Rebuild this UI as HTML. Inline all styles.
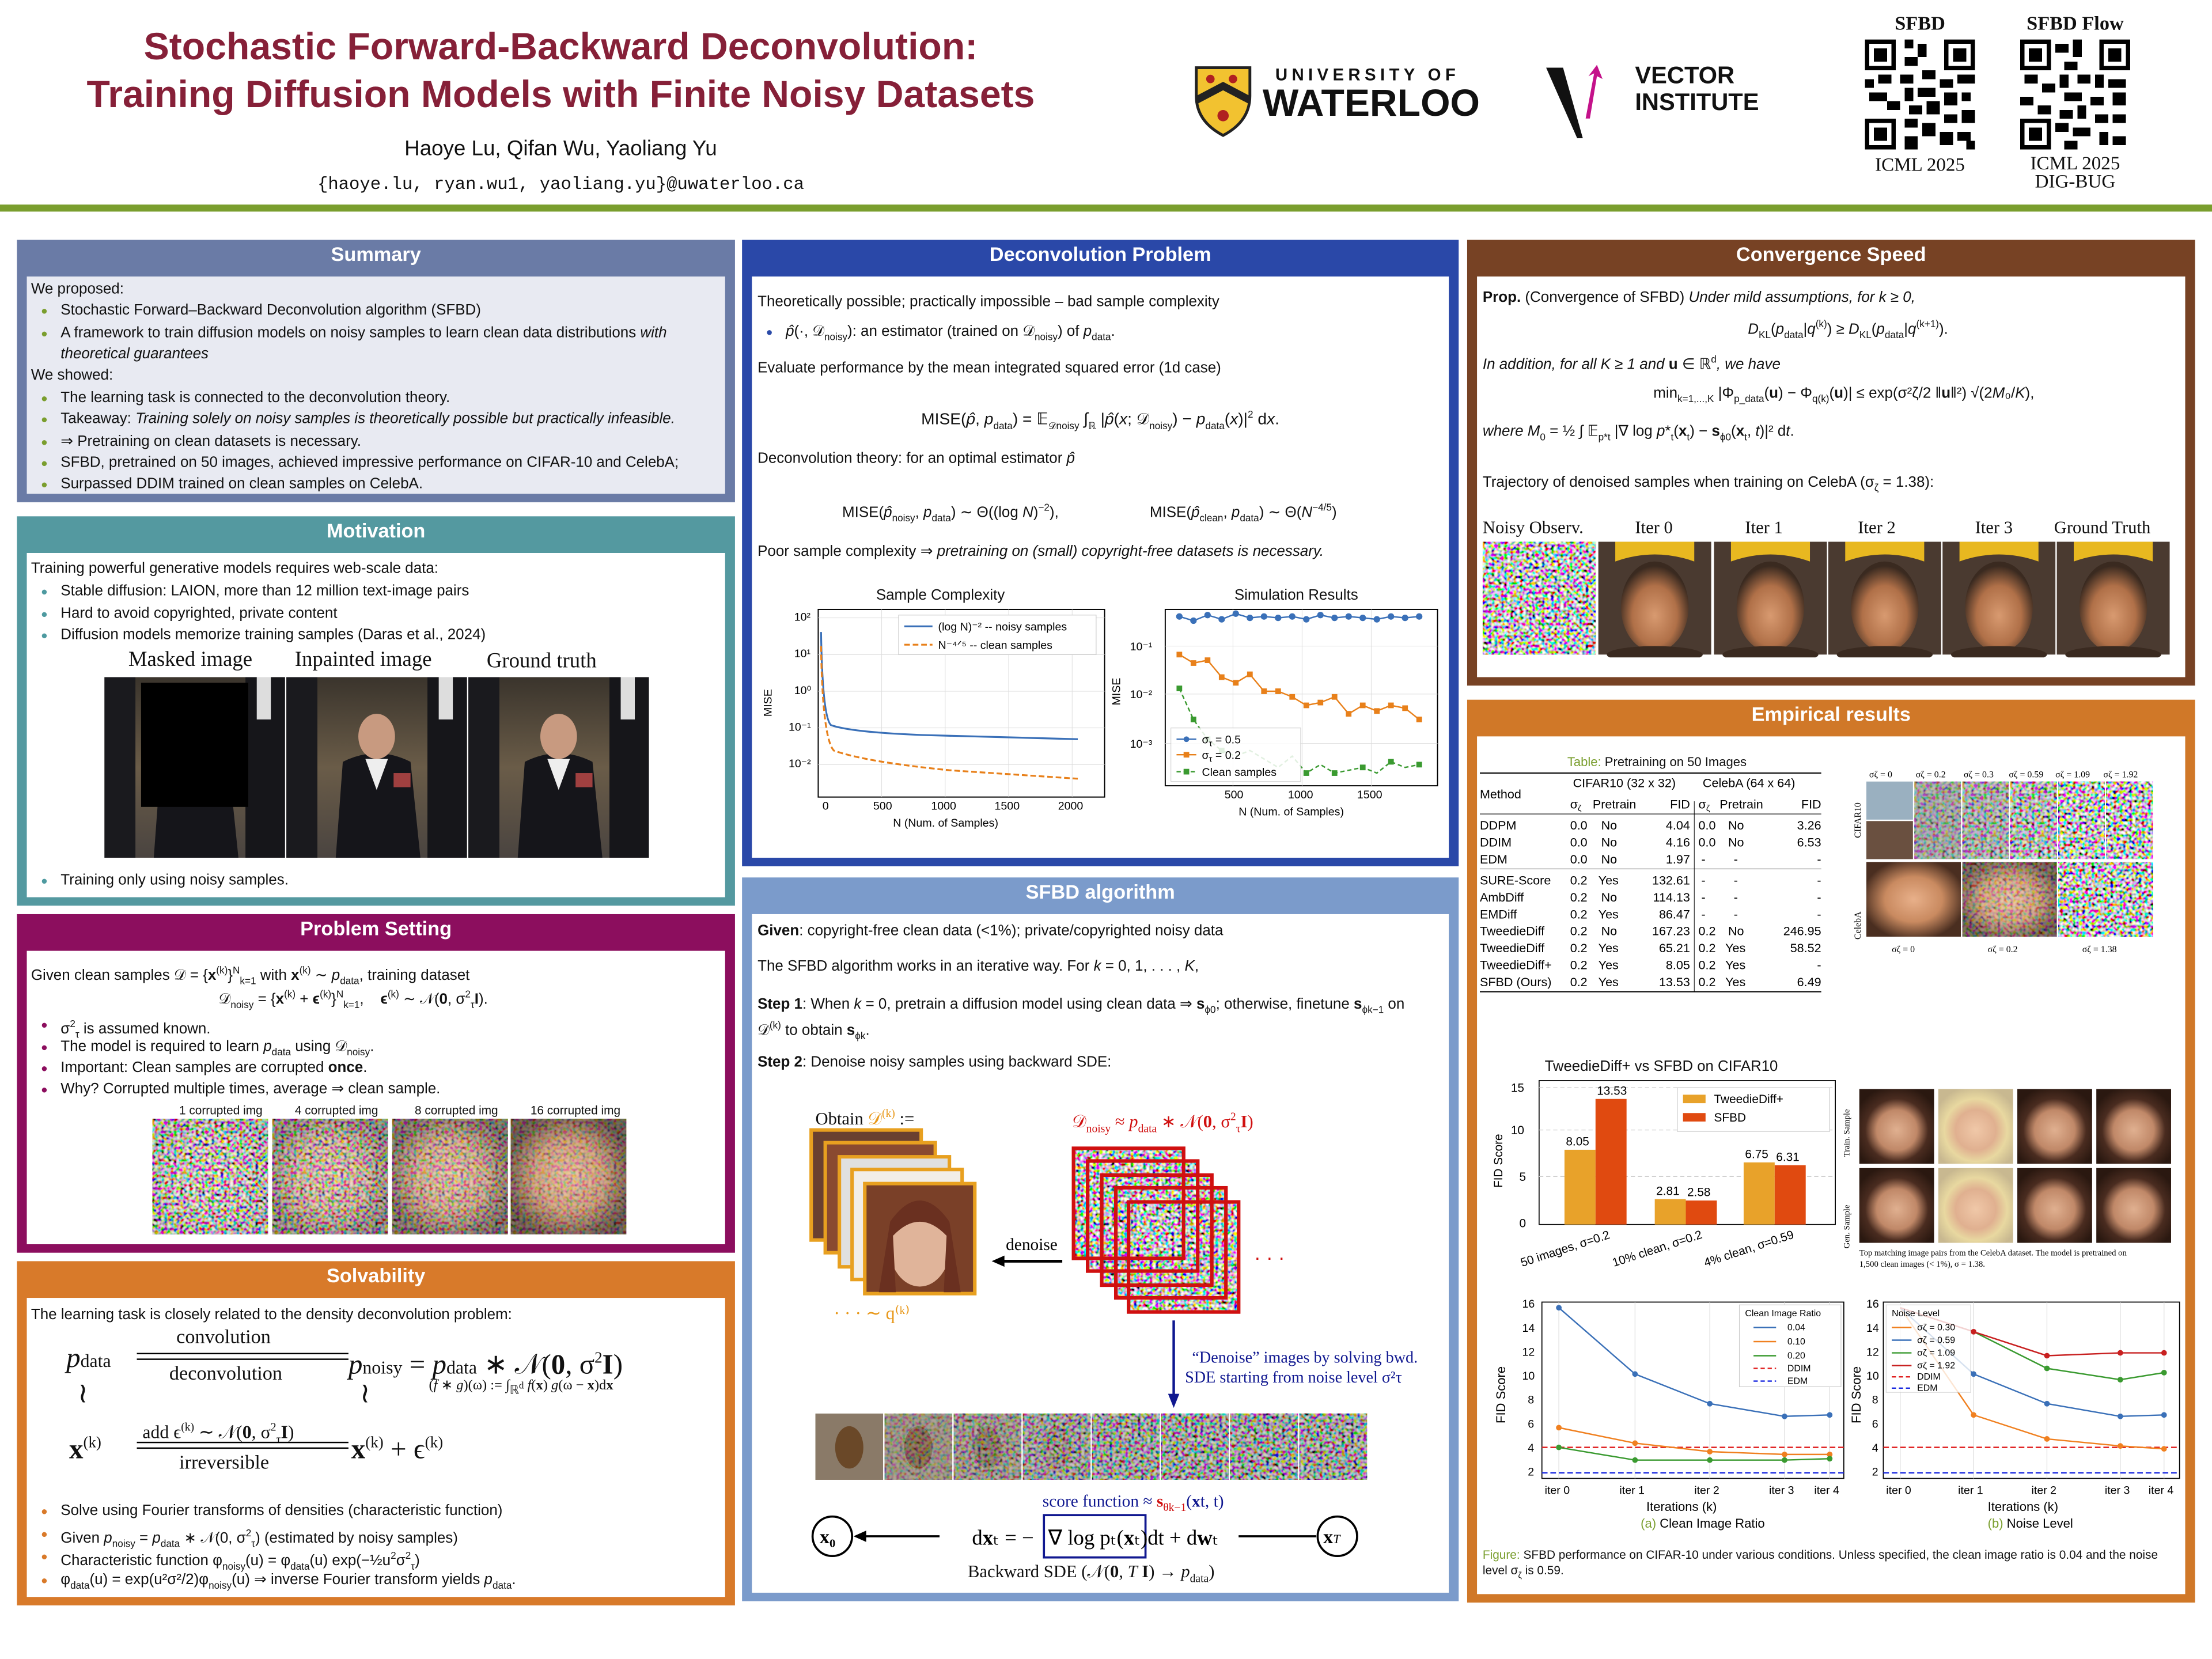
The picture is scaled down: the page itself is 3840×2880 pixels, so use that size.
<!DOCTYPE html>
<html><head><meta charset="utf-8">
<style>
html,body{margin:0;padding:0;background:#fff;}
body{width:3840px;height:2880px;overflow:hidden;position:relative;}
#w{position:absolute;left:0;top:0;width:1568px;height:1176px;transform:scale(2.44898);transform-origin:0 0;font-family:"Liberation Sans",sans-serif;color:#111;}
.a{position:absolute;}
.p{position:absolute;}
.hd{position:absolute;left:0;right:0;top:0;height:22px;line-height:21px;text-align:center;color:#fff;font-weight:bold;font-size:14px;}
.in{position:absolute;left:7px;right:7px;top:26px;bottom:6px;background:#fff;}
.t{position:absolute;font-size:10.6px;white-space:nowrap;line-height:13px;}
.b::before{content:"●";position:absolute;left:-14px;font-size:8px;top:0px;}
.g::before{color:#7a9e2e}.c::before{color:#4e9aa0}.m::before{color:#8c0e5e}.o::before{color:#d97a2a}.u::before{color:#2a4aa8}
.serif{font-family:"Liberation Serif",serif;}
.im{position:absolute;}
</style></head><body>
<svg width="0" height="0" style="position:absolute">
<defs>
<filter id="nz" x="0" y="0" width="100%" height="100%"><feTurbulence type="fractalNoise" baseFrequency="0.45" numOctaves="1" seed="3"/><feColorMatrix type="matrix" values="3.5 0 0 0 -1.2  0 3.5 0 0 -1.2  0 0 3.5 0 -1.2  0 0 0 0 1"/></filter>
<radialGradient id="face" cx="50%" cy="50%" r="55%"><stop offset="0" stop-color="#e8b08a"/><stop offset="0.55" stop-color="#c98a60"/><stop offset="1" stop-color="#4a2e20"/></radialGradient>
</defs></svg>
<div id="w">
<!-- header -->
<div class="a" style="left:0;top:16px;width:795px;text-align:center;color:#862038;font-weight:bold;font-size:27px;line-height:34px;">Stochastic Forward-Backward Deconvolution:<br>Training Diffusion Models with Finite Noisy Datasets</div>
<div class="a" style="left:0;top:97px;width:795px;text-align:center;font-size:15px;">Haoye Lu, Qifan Wu, Yaoliang Yu</div>
<div class="a" style="left:0;top:124px;width:795px;text-align:center;font-size:12.5px;font-family:'Liberation Mono',monospace;">{haoye.lu, ryan.wu1, yaoliang.yu}@uwaterloo.ca</div>
<svg class="a" style="left:846px;top:46px" width="44" height="52"><path d="M2 2 H40 V22 Q40 40 21 50 Q2 40 2 22Z" fill="#f2c230" stroke="#222" stroke-width="2"/><path d="M2 22 L21 12 L40 22 L40 28 L21 18 L2 28Z" fill="#222"/><circle cx="12" cy="10" r="3" fill="#b02020"/><circle cx="28" cy="10" r="3" fill="#b02020"/><circle cx="21" cy="36" r="4" fill="#b02020"/></svg>
<div class="a" style="left:904px;top:46px;font-size:12px;font-weight:bold;letter-spacing:3px;">UNIVERSITY OF</div>
<div class="a" style="left:895px;top:58px;font-size:27px;font-weight:bold;letter-spacing:0px;">WATERLOO</div>
<svg class="a" style="left:1094px;top:44px" width="50" height="56"><path d="M2 4 L14 4 L28 54 L24 54Z" fill="#111"/><path d="M30 40 L36 8 L32 10 L38 2 L42 12 L38 10 L33 40Z" fill="#c4128a"/></svg>
<div class="a" style="left:1159px;top:44px;font-size:17px;font-weight:bold;line-height:19px;">VECTOR<br>INSTITUTE</div>
<div class="a serif" style="left:1322px;top:10px;width:78px;text-align:center;font-size:14px;font-weight:bold;">SFBD</div>
<div class="a serif" style="left:1422px;top:10px;width:98px;text-align:center;font-size:14px;font-weight:bold;">SFBD Flow</div>
<svg class="a" style="left:1322px;top:28px" width="78" height="78" viewBox="0 0 25 25" shape-rendering="crispEdges"><rect width="25" height="25" fill="#fff"/><g fill="#000"><path d="M0 0h7v7h-7zM1 1v5h5v-5zM2 2h3v3h-3z M18 0h7v7h-7zM19 1v5h5v-5zM20 2h3v3h-3z M0 18h7v7h-7zM1 19v5h5v-5zM2 20h3v3h-3z" fill-rule="evenodd"/><path d="M9 0h2v2h-2zM12 1h2v3h-2zM9 4h3v2h-3zM8 8h3v2h-3zM13 7h3v2h-3zM0 9h2v2h-2zM3 8h3v2h-3zM17 9h3v2h-3zM21 8h4v2h-4zM9 11h2v3h-2zM12 11h4v2h-4zM18 12h3v3h-3zM22 12h2v2h-2zM1 12h4v2h-4zM5 14h3v2h-3zM10 15h3v2h-3zM14 14h3v3h-3zM9 18h3v2h-3zM13 19h3v3h-3zM18 17h3v2h-3zM22 16h3v3h-3zM17 21h3v3h-3zM21 21h3v2h-3zM9 22h3v3h-3zM23 23h2v2h-2z"/></g></svg>
<svg class="a" style="left:1432px;top:28px" width="78" height="78" viewBox="0 0 25 25" shape-rendering="crispEdges"><rect width="25" height="25" fill="#fff"/><g fill="#000"><path d="M0 0h7v7h-7zM1 1v5h5v-5zM2 2h3v3h-3z M18 0h7v7h-7zM19 1v5h5v-5zM20 2h3v3h-3z M0 18h7v7h-7zM1 19v5h5v-5zM2 20h3v3h-3z" fill-rule="evenodd"/><path d="M8 1h3v2h-3zM12 0h2v4h-2zM10 5h3v2h-3zM9 8h2v3h-2zM13 8h3v2h-3zM1 8h3v2h-3zM5 10h3v2h-3zM17 8h2v3h-2zM20 9h4v2h-4zM10 12h4v2h-4zM16 13h3v2h-3zM21 12h3v3h-3zM0 13h3v2h-3zM4 15h3v2h-3zM9 16h3v2h-3zM13 15h2v3h-2zM8 19h3v2h-3zM12 20h4v2h-4zM17 17h3v2h-3zM21 17h3v2h-3zM18 21h2v3h-2zM21 22h3v2h-3zM10 23h3v2h-3z"/></g></svg>
<div class="a serif" style="left:1322px;top:109px;width:78px;text-align:center;font-size:13.5px;">ICML 2025</div>
<div class="a serif" style="left:1432px;top:109px;width:78px;text-align:center;font-size:13.5px;line-height:13px;">ICML 2025<br>DIG-BUG</div>
<div class="a" style="left:0;top:145px;width:1568px;height:5px;background:#7a9e2e;"></div>

<!-- Summary -->
<div class="p" style="left:12px;top:170px;width:509px;height:186px;background:#6a7ba6;">
<div class="hd">Summary</div><div class="in" style="background:#e8eaf2;">
<div class="t" style="left:3px;top:3px;">We proposed:</div>
<div class="t b g" style="left:24px;top:18px;">Stochastic Forward–Backward Deconvolution algorithm (SFBD)</div>
<div class="t b g" style="left:24px;top:34px;">A framework to train diffusion models on noisy samples to learn clean data distributions <i>with</i></div>
<div class="t" style="left:24px;top:49px;"><i>theoretical guarantees</i></div>
<div class="t" style="left:3px;top:64px;">We showed:</div>
<div class="t b g" style="left:24px;top:80px;">The learning task is connected to the deconvolution theory.</div>
<div class="t b g" style="left:24px;top:95px;">Takeaway: <i>Training solely on noisy samples is theoretically possible but practically infeasible.</i></div>
<div class="t b g" style="left:24px;top:111px;">⇒ Pretraining on clean datasets is necessary.</div>
<div class="t b g" style="left:24px;top:126px;">SFBD, pretrained on 50 images, achieved impressive performance on CIFAR-10 and CelebA;</div>
<div class="t b g" style="left:24px;top:141px;">Surpassed DDIM trained on clean samples on CelebA.</div>
</div></div>

<!-- Motivation -->
<div class="p" style="left:12px;top:366px;width:509px;height:276px;background:#5499a0;">
<div class="hd">Motivation</div><div class="in">
<div class="t" style="left:3px;top:5px;">Training powerful generative models requires web-scale data:</div>
<div class="t b c" style="left:24px;top:21px;">Stable diffusion: LAION, more than 12 million text-image pairs</div>
<div class="t b c" style="left:24px;top:37px;">Hard to avoid copyrighted, private content</div>
<div class="t b c" style="left:24px;top:52px;">Diffusion models memorize training samples (Daras et al., 2024)</div>
<div class="t serif" style="left:72px;top:70px;font-size:15px;">Masked image</div>
<div class="t serif" style="left:190px;top:70px;font-size:15px;">Inpainted image</div>
<div class="t serif" style="left:326px;top:71px;font-size:15px;">Ground truth</div>
<svg class="im" style="left:55px;top:88px" width="386" height="128">
<defs><linearGradient id="bg1" x1="0" y1="0" x2="0" y2="1"><stop offset="0" stop-color="#3a342c"/><stop offset="0.5" stop-color="#6a5c48"/><stop offset="1" stop-color="#4a4440"/></linearGradient></defs>
<g id="kp"><rect width="128" height="128" fill="url(#bg1)"/><rect x="0" y="0" width="22" height="128" fill="#1a1a1e"/><rect x="100" y="0" width="28" height="128" fill="#16161a"/><rect x="108" y="0" width="10" height="30" fill="#ddd"/><path d="M35 128 L40 60 Q64 48 88 60 L95 128Z" fill="#15151a"/><ellipse cx="64" cy="42" rx="13" ry="16" fill="#c89a80"/><path d="M56 58 L64 80 L72 58Z" fill="#eee"/><rect x="76" y="68" width="12" height="10" fill="#a04040"/></g>
<use href="#kp" x="129"/><use href="#kp" x="258"/>
<rect x="26" y="4" width="76" height="88" fill="#000"/>
</svg>
<div class="t b c" style="left:24px;top:226px;">Training only using noisy samples.</div>
</div></div>

<!-- Problem Setting -->
<div class="p" style="left:12px;top:648px;width:509px;height:240px;background:#8c0e5e;">
<div class="hd">Problem Setting</div><div class="in">
<div class="t" style="left:3px;top:8px;">Given clean samples 𝒟 = {<b>x</b><sup style="font-size:7px">(k)</sup>}<sup style="font-size:7px">N</sup><sub style="font-size:7px">k=1</sub> with <b>x</b><sup style="font-size:7px">(k)</sup> ∼ <i>p</i><sub style="font-size:7px">data</sub>, training dataset</div>
<div class="t" style="left:136px;top:25px;">𝒟<sub style="font-size:7px">noisy</sub> = {<b>x</b><sup style="font-size:7px">(k)</sup> + <b>ϵ</b><sup style="font-size:7px">(k)</sup>}<sup style="font-size:7px">N</sup><sub style="font-size:7px">k=1</sub>,&nbsp;&nbsp;&nbsp; <b>ϵ</b><sup style="font-size:7px">(k)</sup> ∼ 𝒩(<b>0</b>, σ<sup style="font-size:7px">2</sup><sub style="font-size:7px">τ</sub><b>I</b>).</div>
<div class="t b m" style="left:24px;top:46px;">σ<sup style="font-size:7px">2</sup><sub style="font-size:7px">τ</sub> is assumed known.</div>
<div class="t b m" style="left:24px;top:62px;">The model is required to learn <i>p</i><sub style="font-size:7px">data</sub> using 𝒟<sub style="font-size:7px">noisy</sub>.</div>
<div class="t b m" style="left:24px;top:77px;">Important: Clean samples are corrupted <b>once</b>.</div>
<div class="t b m" style="left:24px;top:92px;">Why? Corrupted multiple times, average ⇒ clean sample.</div>
<div class="t" style="left:108px;top:107px;font-size:8.5px;">1 corrupted img</div>
<div class="t" style="left:190px;top:107px;font-size:8.5px;">4 corrupted img</div>
<div class="t" style="left:275px;top:107px;font-size:8.5px;">8 corrupted img</div>
<div class="t" style="left:357px;top:107px;font-size:8.5px;">16 corrupted img</div>
<svg class="im" style="left:89px;top:119px" width="340" height="84">
<g><rect width="82" height="82" fill="url(#face)"/><rect width="82" height="82" filter="url(#nz)" opacity="0.85"/></g>
<g transform="translate(85,0)"><rect width="82" height="82" fill="url(#face)"/><rect width="82" height="82" filter="url(#nz)" opacity="0.6"/></g>
<g transform="translate(170,0)"><rect width="82" height="82" fill="url(#face)"/><rect width="82" height="82" filter="url(#nz)" opacity="0.45"/></g>
<g transform="translate(254,0)"><rect width="82" height="82" fill="url(#face)"/><rect width="82" height="82" filter="url(#nz)" opacity="0.3"/></g>
</svg>
</div></div>

<!-- Solvability -->
<div class="p" style="left:12px;top:894px;width:509px;height:244px;background:#d87a2a;">
<div class="hd">Solvability</div><div class="in">
<div class="t" style="left:3px;top:6px;">The learning task is closely related to the density deconvolution problem:</div>
<div class="t serif" style="left:28px;top:32px;font-size:20px;line-height:22px;"><i>p</i><span style="font-size:13px">data</span></div>
<div class="t serif" style="left:106px;top:22px;font-size:14px;">convolution</div>
<div class="a" style="left:78px;top:39px;width:150px;height:1px;background:#000;"></div>
<div class="a" style="left:78px;top:43px;width:150px;height:1px;background:#000;"></div>
<div class="t serif" style="left:101px;top:48px;font-size:14px;">deconvolution</div>
<div class="t serif" style="left:228px;top:32px;font-size:20px;line-height:22px;"><i>p</i><span style="font-size:13px">noisy</span> = <i>p</i><span style="font-size:13px">data</span> ∗ 𝒩(<b>0</b>, σ<sup style="font-size:11px">2</sup><b>I</b>)</div>
<div class="t serif" style="left:285px;top:56px;font-size:10px;">(<i>f</i> ∗ <i>g</i>)(ω) := ∫<sub>ℝ<sup>d</sup></sub> <i>f</i>(<b>x</b>) <i>g</i>(ω − <b>x</b>)d<b>x</b></div>
<div class="t serif" style="left:36px;top:62px;font-size:20px;">≀</div>
<div class="t serif" style="left:236px;top:62px;font-size:20px;">≀</div>
<div class="t serif" style="left:30px;top:92px;font-size:20px;line-height:22px;"><b>x</b><sup style="font-size:11px">(k)</sup></div>
<div class="t serif" style="left:82px;top:85px;font-size:13px;">add ϵ<sup style="font-size:8px">(k)</sup> ∼ 𝒩(<b>0</b>, σ<sup style="font-size:8px">2</sup><sub style="font-size:8px">τ</sub><b>I</b>)</div>
<div class="a" style="left:78px;top:102px;width:150px;height:1px;background:#000;"></div>
<div class="a" style="left:78px;top:106px;width:150px;height:1px;background:#000;"></div>
<div class="t serif" style="left:108px;top:111px;font-size:14px;">irreversible</div>
<div class="t serif" style="left:230px;top:92px;font-size:20px;line-height:22px;"><b>x</b><sup style="font-size:11px">(k)</sup> + ϵ<sup style="font-size:11px">(k)</sup></div>
<div class="t b o" style="left:24px;top:145px;">Solve using Fourier transforms of densities (characteristic function)</div>
<div class="t b o" style="left:24px;top:161px;">Given <i>p</i><sub style="font-size:7px">noisy</sub> = <i>p</i><sub style="font-size:7px">data</sub> ∗ 𝒩(0, σ<sup style="font-size:7px">2</sup><sub style="font-size:7px">τ</sub>) (estimated by noisy samples)</div>
<div class="t b o" style="left:24px;top:177px;">Characteristic function φ<sub style="font-size:7px">noisy</sub>(u) = φ<sub style="font-size:7px">data</sub>(u) exp(−½u<sup style="font-size:7px">2</sup>σ<sup style="font-size:7px">2</sup><sub style="font-size:7px">τ</sub>)</div>
<div class="t b o" style="left:24px;top:194px;">φ<sub style="font-size:7px">data</sub>(u) = exp(u²σ²/2)φ<sub style="font-size:7px">noisy</sub>(u) ⇒ inverse Fourier transform yields <i>p</i><sub style="font-size:7px">data</sub>.</div>
</div></div>

<!-- Deconvolution -->
<div class="p" style="left:526px;top:170px;width:508px;height:444px;background:#2a48a8;">
<div class="hd">Deconvolution Problem</div><div class="in">
<div class="t" style="left:4px;top:12px;">Theoretically possible; practically impossible – bad sample complexity</div>
<div class="t b u" style="left:24px;top:33px;"><i>p̂</i>(·, 𝒟<sub style="font-size:7px">noisy</sub>): an estimator (trained on 𝒟<sub style="font-size:7px">noisy</sub>) of <i>p</i><sub style="font-size:7px">data</sub>.</div>
<div class="t" style="left:4px;top:59px;">Evaluate performance by the mean integrated squared error (1d case)</div>
<div class="t" style="left:120px;top:92px;font-size:11.5px;">MISE(<i>p̂</i>, <i>p</i><sub style="font-size:7px">data</sub>) = 𝔼<sub style="font-size:7px">𝒟noisy</sub> ∫<sub style="font-size:7px">ℝ</sub> |<i>p̂</i>(<i>x</i>; 𝒟<sub style="font-size:7px">noisy</sub>) − <i>p</i><sub style="font-size:7px">data</sub>(<i>x</i>)|<sup style="font-size:7px">2</sup> d<i>x</i>.</div>
<div class="t" style="left:4px;top:123px;">Deconvolution theory: for an optimal estimator <i>p̂</i></div>
<div class="t" style="left:64px;top:158px;">MISE(<i>p̂</i><sub style="font-size:7px">noisy</sub>, <i>p</i><sub style="font-size:7px">data</sub>) ∼ Θ((log <i>N</i>)<sup style="font-size:7px">−2</sup>),</div>
<div class="t" style="left:282px;top:158px;">MISE(<i>p̂</i><sub style="font-size:7px">clean</sub>, <i>p</i><sub style="font-size:7px">data</sub>) ∼ Θ(<i>N</i><sup style="font-size:7px">−4/5</sup>)</div>
<div class="t" style="left:4px;top:189px;">Poor sample complexity ⇒ <i>pretraining on (small) copyright-free datasets is necessary.</i></div>
<div class="t" style="left:88px;top:220px;">Sample Complexity</div>
<div class="t" style="left:342px;top:220px;">Simulation Results</div>
<svg class="a" style="left:0;top:232px" width="494" height="160" font-family="Liberation Sans" font-size="8">
<rect x="47" y="4" width="203" height="133" fill="none" stroke="#000" stroke-width="0.8"/>
<g stroke="#ddd" stroke-width="0.4">
<path d="M47 10H250M47 36H250M47 62H250M47 88H250M47 114H250"/>
<path d="M92 4V137M137 4V137M182 4V137M227 4V137"/>
</g>
<text x="30" y="12">10²</text><text x="30" y="38">10¹</text><text x="30" y="64">10⁰</text><text x="26" y="90">10⁻¹</text><text x="26" y="116">10⁻²</text>
<text x="50" y="146">0</text><text x="86" y="146">500</text><text x="127" y="146">1000</text><text x="172" y="146">1500</text><text x="217" y="146">2000</text>
<text x="100" y="158">N (Num. of Samples)</text>
<text x="14" y="80" transform="rotate(-90 14 80)">MISE</text>
<path d="M49 20 Q50 80 56 86 Q70 91 120 93 L231 96" stroke="#3a70b8" fill="none" stroke-width="1.3"/>
<path d="M49 30 Q50 95 58 104 Q80 112 140 118 L231 124" stroke="#e8801a" fill="none" stroke-width="1.3" stroke-dasharray="4 2"/>
<rect x="104" y="8" width="140" height="28" fill="#fff" stroke="#ccc" stroke-width="0.5"/>
<path d="M108 16h20" stroke="#3a70b8" stroke-width="1.3"/><text x="132" y="19">(log N)⁻² -- noisy samples</text>
<path d="M108 29h20" stroke="#e8801a" stroke-width="1.3" stroke-dasharray="4 2"/><text x="132" y="32">N⁻⁴ᐟ⁵ -- clean samples</text>
<rect x="293" y="4" width="193" height="125" fill="none" stroke="#000" stroke-width="0.8"/>
<g stroke="#ddd" stroke-width="0.4"><path d="M293 30H486M293 64H486M293 99H486M341 4V129M390 4V129M439 4V129"/></g>
<text x="268" y="33">10⁻¹</text><text x="268" y="67">10⁻²</text><text x="268" y="102">10⁻³</text>
<text x="335" y="138">500</text><text x="380" y="138">1000</text><text x="429" y="138">1500</text>
<text x="345" y="150">N (Num. of Samples)</text>
<text x="261" y="72" transform="rotate(-90 261 72)">MISE</text>
<g transform="translate(-7,0)">
<polyline points="310,9 320,12 330,8 340,11 350,7 360,10 370,9 380,10 390,9 400,11 410,8 420,10 430,9 440,10 450,11 460,9 470,10 480,9" fill="none" stroke="#3a70b8" stroke-width="1"/>
<g fill="#3a70b8"><circle cx="310" cy="9" r="2.3"/><circle cx="320" cy="12" r="2.3"/><circle cx="330" cy="8" r="2.3"/><circle cx="340" cy="11" r="2.3"/><circle cx="350" cy="7" r="2.3"/><circle cx="360" cy="10" r="2.3"/><circle cx="370" cy="9" r="2.3"/><circle cx="380" cy="10" r="2.3"/><circle cx="390" cy="9" r="2.3"/><circle cx="400" cy="11" r="2.3"/><circle cx="410" cy="8" r="2.3"/><circle cx="420" cy="10" r="2.3"/><circle cx="430" cy="9" r="2.3"/><circle cx="440" cy="10" r="2.3"/><circle cx="450" cy="11" r="2.3"/><circle cx="460" cy="9" r="2.3"/><circle cx="470" cy="10" r="2.3"/><circle cx="480" cy="9" r="2.3"/></g>
<polyline points="310,36 320,42 330,40 340,52 350,56 360,50 370,62 380,62 390,66 400,72 410,70 420,66 430,78 440,72 450,76 460,72 470,74 480,82" fill="none" stroke="#e8801a" stroke-width="1"/>
<g fill="#e8801a"><rect x="308" y="34" width="4" height="4"/><rect x="318" y="40" width="4" height="4"/><rect x="328" y="38" width="4" height="4"/><rect x="338" y="50" width="4" height="4"/><rect x="348" y="54" width="4" height="4"/><rect x="358" y="48" width="4" height="4"/><rect x="368" y="60" width="4" height="4"/><rect x="378" y="60" width="4" height="4"/><rect x="388" y="64" width="4" height="4"/><rect x="398" y="70" width="4" height="4"/><rect x="408" y="68" width="4" height="4"/><rect x="418" y="64" width="4" height="4"/><rect x="428" y="76" width="4" height="4"/><rect x="438" y="70" width="4" height="4"/><rect x="448" y="74" width="4" height="4"/><rect x="458" y="70" width="4" height="4"/><rect x="468" y="72" width="4" height="4"/><rect x="478" y="80" width="4" height="4"/></g>
<polyline points="310,60 320,82 330,96 340,104 350,108 360,104 370,110 380,116 390,108 400,120 410,114 420,120 430,118 440,116 450,120 460,112 470,116 480,114" fill="none" stroke="#3a9a30" stroke-width="1" stroke-dasharray="3 2"/>
<g fill="#3a9a30"><rect x="308" y="58" width="4" height="4"/><rect x="318" y="80" width="4" height="4"/><rect x="328" y="94" width="4" height="4"/><rect x="338" y="102" width="4" height="4"/><rect x="398" y="118" width="4" height="4"/><rect x="418" y="118" width="4" height="4"/><rect x="438" y="114" width="4" height="4"/><rect x="458" y="110" width="4" height="4"/><rect x="478" y="112" width="4" height="4"/></g>
<rect x="304" y="88" width="92" height="38" fill="#fff" opacity="0.85" stroke="#ccc" stroke-width="0.5"/>
<path d="M308 96h14" stroke="#3a70b8"/><circle cx="315" cy="96" r="2" fill="#3a70b8"/><text x="326" y="99">σ<tspan font-size="6" dy="2">τ</tspan><tspan dy="-2"> = 0.5</tspan></text>
<path d="M308 107h14" stroke="#e8801a"/><rect x="313" y="105" width="4" height="4" fill="#e8801a"/><text x="326" y="110">σ<tspan font-size="6" dy="2">τ</tspan><tspan dy="-2"> = 0.2</tspan></text>
<path d="M308 119h14" stroke="#3a9a30" stroke-dasharray="3 2"/><rect x="313" y="117" width="4" height="4" fill="#3a9a30"/><text x="326" y="122">Clean samples</text>
</g>
</svg>
</div></div>

<!-- SFBD algorithm -->
<div class="p" style="left:526px;top:622px;width:508px;height:513px;background:#7b9bcb;">
<div class="hd">SFBD algorithm</div><div class="in">
<div class="t" style="left:4px;top:6px;"><b>Given</b>: copyright-free clean data (&lt;1%); private/copyrighted noisy data</div>
<div class="t" style="left:4px;top:31px;">The SFBD algorithm works in an iterative way. For <i>k</i> = 0, 1, . . . , <i>K</i>,</div>
<div class="t" style="left:4px;top:58px;"><b>Step 1</b>: When <i>k</i> = 0, pretrain a diffusion model using clean data ⇒ <b>s</b><sub style="font-size:7px">ϕ0</sub>; otherwise, finetune <b>s</b><sub style="font-size:7px">ϕk−1</sub> on</div>
<div class="t" style="left:4px;top:73px;">𝒟<sup style="font-size:7px">(k)</sup> to obtain <b>s</b><sub style="font-size:7px">ϕk</sub>.</div>
<div class="t" style="left:4px;top:99px;"><b>Step 2</b>: Denoise noisy samples using backward SDE:</div>
<div class="t serif" style="left:45px;top:135px;font-size:12.5px;">Obtain <span style="color:#e8981a">𝒟<sup style="font-size:8px">(k)</sup></span> :=</div>
<div class="t serif" style="left:227px;top:137px;font-size:12.5px;color:#d01010;">𝒟<sub style="font-size:8px">noisy</sub> ≈ <i>p</i><sub style="font-size:8px">data</sub> ∗ 𝒩(<b>0</b>, σ<sup style="font-size:8px">2</sup><sub style="font-size:8px">τ</sub><b>I</b>)</div>
<svg class="a" style="left:0;top:148px" width="494" height="320">
<g stroke="#e8a020" stroke-width="2.5">
<rect x="42" y="5" width="78" height="78" fill="#6a4030"/>
<rect x="52" y="14" width="78" height="78" fill="#8a4a30"/>
<rect x="62" y="24" width="78" height="78" fill="#e0e0e0"/>
<rect x="71" y="33" width="78" height="78" fill="#f2eee8"/>
<rect x="80" y="43" width="78" height="78" fill="#7a4028"/>
</g>
<ellipse cx="119" cy="86" rx="22" ry="30" fill="#e0b49a"/>
<path d="M98 70 Q119 40 140 70 L148 120 L136 120 L138 80 Q119 60 100 80 L102 120 L90 120Z" fill="#6a3020"/>
<text x="58" y="139" fill="#e8981a" font-family="Liberation Serif" font-size="13">· · ·   ∼ q⁽ᵏ⁾</text>
<text x="180" y="90" font-family="Liberation Serif" font-size="12">denoise</text>
<path d="M220 98 H176" stroke="#000" stroke-width="2"/><path d="M170 98 l9 -4 v8z" fill="#000"/>
<g stroke="#d01010" stroke-width="2.5">
<rect x="228" y="18" width="78" height="78" fill="#888"/><rect x="228" y="18" width="78" height="78" filter="url(#nz)" stroke="none"/>
<rect x="238" y="27" width="78" height="78" fill="#888"/><rect x="238" y="27" width="78" height="78" filter="url(#nz)" stroke="none"/>
<rect x="248" y="37" width="78" height="78" fill="#888"/><rect x="248" y="37" width="78" height="78" filter="url(#nz)" stroke="none"/>
<rect x="258" y="46" width="78" height="78" fill="#888"/><rect x="258" y="46" width="78" height="78" filter="url(#nz)" stroke="none"/>
<rect x="267" y="56" width="78" height="78" fill="#888"/><rect x="267" y="56" width="78" height="78" filter="url(#nz)" stroke="none"/>
</g>
<g fill="none" stroke="#d01010" stroke-width="2.5"><rect x="228" y="18" width="78" height="78"/><rect x="238" y="27" width="78" height="78"/><rect x="248" y="37" width="78" height="78"/><rect x="258" y="46" width="78" height="78"/><rect x="267" y="56" width="78" height="78"/></g>
<text x="356" y="100" fill="#d01010" font-size="14">· · ·</text>
<path d="M299 140 V196" stroke="#101890" stroke-width="1.8"/><path d="M295 192 l4 10 l4 -10z" fill="#101890"/>
<text x="312" y="170" fill="#101890" font-family="Liberation Serif" font-size="11.5">“Denoise” images by solving bwd.</text>
<text x="307" y="184" fill="#101890" font-family="Liberation Serif" font-size="11.5">SDE starting from noise level σ²τ</text>
<g transform="translate(45,206)">
<rect width="48" height="47" fill="#8a7a68"/><ellipse cx="24" cy="24" rx="10" ry="15" fill="#6a4828"/>
<rect x="49" width="48" height="47" fill="#8a7a68"/><ellipse cx="73" cy="24" rx="10" ry="15" fill="#6a4828"/><rect x="49" width="48" height="47" filter="url(#nz)" opacity="0.3"/>
<rect x="98" width="48" height="47" fill="#807060"/><ellipse cx="122" cy="24" rx="10" ry="15" fill="#5a4028"/><rect x="98" width="48" height="47" filter="url(#nz)" opacity="0.45"/>
<rect x="147" width="48" height="47" fill="#6a6060"/><ellipse cx="171" cy="24" rx="10" ry="15" fill="#5a4030"/><rect x="147" width="48" height="47" filter="url(#nz)" opacity="0.6"/>
<rect x="196" width="48" height="47" fill="#505050"/><rect x="196" width="48" height="47" filter="url(#nz)" opacity="0.7"/>
<rect x="245" width="48" height="47" fill="#404040"/><rect x="245" width="48" height="47" filter="url(#nz)" opacity="0.75"/>
<rect x="294" width="48" height="47" fill="#404040"/><rect x="294" width="48" height="47" filter="url(#nz)" opacity="0.75"/>
<rect x="343" width="48" height="47" fill="#404040"/><rect x="343" width="48" height="47" filter="url(#nz)" opacity="0.75"/>
</g>
<text x="206" y="272" fill="#101890" font-family="Liberation Serif" font-size="12">score function ≈ <tspan fill="#d01010" font-weight="bold">s</tspan><tspan fill="#d01010" font-size="8" dy="3">θk−1</tspan><tspan dy="-3">(<tspan font-weight="bold">x</tspan>t, t)</tspan></text>
<circle cx="57" cy="293" r="14" fill="none" stroke="#000" stroke-width="1.5"/><text x="48" y="298" font-family="Liberation Serif" font-size="14" font-weight="bold">x₀</text>
<path d="M133 293 H78" stroke="#000" stroke-width="1.5"/><path d="M72 293 l9 -4 v8z" fill="#000"/>
<text x="156" y="299" font-family="Liberation Serif" font-size="15">d<tspan font-weight="bold">x</tspan>ₜ = −</text>
<rect x="207" y="278" width="72" height="30" fill="none" stroke="#101890" stroke-width="1.5"/>
<text x="210" y="299" font-family="Liberation Serif" font-size="15">∇ log pₜ(<tspan font-weight="bold">x</tspan>ₜ)dt + d<tspan font-weight="bold">w</tspan>ₜ</text>
<path d="M345 293 H400" stroke="#000" stroke-width="1.5"/>
<circle cx="415" cy="293" r="14" fill="none" stroke="#000" stroke-width="1.5"/><text x="405" y="298" font-family="Liberation Serif" font-size="14" font-weight="bold">x<tspan font-size="9" font-style="italic" font-weight="normal">T</tspan></text>
</svg>
<div class="t serif" style="left:153px;top:460px;font-size:12.5px;">Backward SDE (𝒩(<b>0</b>, <i>T</i> <b>I</b>) → <i>p</i><sub style="font-size:8px">data</sub>)</div>
</div></div>

<!-- Convergence -->
<div class="p" style="left:1040px;top:170px;width:516px;height:316px;background:#774224;">
<div class="hd">Convergence Speed</div><div class="in">
<div class="t" style="left:4px;top:9px;"><b>Prop.</b> (Convergence of SFBD) <i>Under mild assumptions, for k ≥ 0,</i></div>
<div class="t" style="left:192px;top:28px;"><i>D</i><sub style="font-size:7px">KL</sub>(<i>p</i><sub style="font-size:7px">data</sub>|<i>q</i><sup style="font-size:7px">(k)</sup>) ≥ <i>D</i><sub style="font-size:7px">KL</sub>(<i>p</i><sub style="font-size:7px">data</sub>|<i>q</i><sup style="font-size:7px">(k+1)</sup>).</div>
<div class="t" style="left:4px;top:53px;"><i>In addition, for all K ≥ 1 and</i> <b>u</b> ∈ ℝ<sup style="font-size:7px">d</sup><i>, we have</i></div>
<div class="t" style="left:125px;top:77px;">min<sub style="font-size:7px">k=1,...,K</sub> |Φ<sub style="font-size:7px">p_data</sub>(<b>u</b>) − Φ<sub style="font-size:7px">q(k)</sub>(<b>u</b>)| ≤ exp(σ²ζ/2 ‖<b>u</b>‖²) √(2<i>M</i>₀/<i>K</i>),</div>
<div class="t" style="left:4px;top:104px;"><i>where M</i><sub style="font-size:7px">0</sub> = ½ ∫ 𝔼<sub style="font-size:7px">p*t</sub> |∇ log <i>p</i>*<sub style="font-size:7px">t</sub>(<b>x</b><sub style="font-size:7px">t</sub>) − <b>s</b><sub style="font-size:7px">ϕ0</sub>(<b>x</b><sub style="font-size:7px">t</sub>, <i>t</i>)|² d<i>t</i>.</div>
<div class="t" style="left:4px;top:140px;">Trajectory of denoised samples when training on CelebA (σ<sub style="font-size:7px">ζ</sub> = 1.38):</div>
<div class="t serif" style="left:4px;top:172px;font-size:12.5px;">Noisy Observ.</div>
<div class="t serif" style="left:112px;top:172px;font-size:12.5px;">Iter 0</div>
<div class="t serif" style="left:190px;top:172px;font-size:12.5px;">Iter 1</div>
<div class="t serif" style="left:270px;top:172px;font-size:12.5px;">Iter 2</div>
<div class="t serif" style="left:353px;top:172px;font-size:12.5px;">Iter 3</div>
<div class="t serif" style="left:409px;top:172px;font-size:12.5px;">Ground Truth</div>
<svg class="a" style="left:4px;top:188px" width="490" height="82">
<defs><radialGradient id="f2" cx="50%" cy="60%" r="55%"><stop offset="0" stop-color="#d89a70"/><stop offset="0.6" stop-color="#b07048"/><stop offset="1" stop-color="#3a2a20"/></radialGradient></defs>
<rect width="80" height="80" fill="#888"/><rect width="80" height="80" filter="url(#nz)"/>
<g id="fc" transform="translate(82,0)"><rect width="80" height="80" fill="#4a3a30"/><ellipse cx="40" cy="46" rx="24" ry="32" fill="url(#f2)"/><path d="M12 0 H68 V14 Q40 4 12 14Z" fill="#e8b820"/><ellipse cx="40" cy="80" rx="34" ry="6" fill="#3a2a20"/></g>
<use href="#fc" x="82"/><use href="#fc" x="163"/><use href="#fc" x="244"/><use href="#fc" x="325"/>
</svg>
</div></div>

<!-- Empirical -->
<div class="p" style="left:1040px;top:496px;width:516px;height:640px;background:#d07828;">
<div class="hd">Empirical results</div><div class="in">
<div class="t" style="left:64px;top:12px;font-size:9px;"><span style="color:#7a9e2e">Table:</span> Pretraining on 50 Images</div>
<svg class="a" style="left:2px;top:24px" width="250" height="162" font-family="Liberation Sans" font-size="8.8">
<path d="M0 2H242" stroke="#000" stroke-width="0.8"/>
<text x="0" y="20">Method</text><text x="66" y="12">CIFAR10 (32 x 32)</text><text x="158" y="12">CelebA (64 x 64)</text>
<text x="64" y="27">σ<tspan font-size="6" dy="2">ζ</tspan></text><text x="80" y="27">Pretrain</text><text x="149" y="27" text-anchor="end">FID</text><text x="155" y="27">σ<tspan font-size="6" dy="2">ζ</tspan></text><text x="170" y="27">Pretrain</text><text x="242" y="27" text-anchor="end">FID</text>
<path d="M0 31H242" stroke="#000" stroke-width="0.5"/>
<path d="M152 22V157" stroke="#000" stroke-width="0.4"/>
<g>
<text x="0" y="42">DDPM</text><text x="64" y="42">0.0</text><text x="86" y="42">No</text><text x="149" y="42" text-anchor="end">4.04</text><text x="155" y="42">0.0</text><text x="176" y="42">No</text><text x="242" y="42" text-anchor="end">3.26</text>
<text x="0" y="54">DDIM</text><text x="64" y="54">0.0</text><text x="86" y="54">No</text><text x="149" y="54" text-anchor="end">4.16</text><text x="155" y="54">0.0</text><text x="176" y="54">No</text><text x="242" y="54" text-anchor="end">6.53</text>
<text x="0" y="66">EDM</text><text x="64" y="66">0.0</text><text x="86" y="66">No</text><text x="149" y="66" text-anchor="end">1.97</text><text x="157" y="66">-</text><text x="180" y="66">-</text><text x="242" y="66" text-anchor="end">-</text>
<path d="M0 70H242" stroke="#000" stroke-width="0.4"/>
<text x="0" y="81">SURE-Score</text><text x="64" y="81">0.2</text><text x="84" y="81">Yes</text><text x="149" y="81" text-anchor="end">132.61</text><text x="157" y="81">-</text><text x="180" y="81">-</text><text x="242" y="81" text-anchor="end">-</text>
<text x="0" y="93">AmbDiff</text><text x="64" y="93">0.2</text><text x="86" y="93">No</text><text x="149" y="93" text-anchor="end">114.13</text><text x="157" y="93">-</text><text x="180" y="93">-</text><text x="242" y="93" text-anchor="end">-</text>
<text x="0" y="105">EMDiff</text><text x="64" y="105">0.2</text><text x="84" y="105">Yes</text><text x="149" y="105" text-anchor="end">86.47</text><text x="157" y="105">-</text><text x="180" y="105">-</text><text x="242" y="105" text-anchor="end">-</text>
<text x="0" y="117">TweedieDiff</text><text x="64" y="117">0.2</text><text x="86" y="117">No</text><text x="149" y="117" text-anchor="end">167.23</text><text x="155" y="117">0.2</text><text x="176" y="117">No</text><text x="242" y="117" text-anchor="end">246.95</text>
<text x="0" y="129">TweedieDiff</text><text x="64" y="129">0.2</text><text x="84" y="129">Yes</text><text x="149" y="129" text-anchor="end">65.21</text><text x="155" y="129">0.2</text><text x="174" y="129">Yes</text><text x="242" y="129" text-anchor="end">58.52</text>
<text x="0" y="141">TweedieDiff+</text><text x="64" y="141">0.2</text><text x="84" y="141">Yes</text><text x="149" y="141" text-anchor="end">8.05</text><text x="155" y="141">0.2</text><text x="174" y="141">Yes</text><text x="242" y="141" text-anchor="end">-</text>
<text x="0" y="153">SFBD (Ours)</text><text x="64" y="153">0.2</text><text x="84" y="153">Yes</text><text x="149" y="153" text-anchor="end">13.53</text><text x="155" y="153">0.2</text><text x="174" y="153">Yes</text><text x="242" y="153" text-anchor="end">6.49</text>
</g>
<path d="M0 157H242" stroke="#000" stroke-width="0.8"/>
</svg>
<svg class="a" style="left:264px;top:22px" width="245" height="185" font-family="Liberation Serif" font-size="6.5">
<text x="14" y="7">σζ = 0</text><text x="47" y="7">σζ = 0.2</text><text x="81" y="7">σζ = 0.3</text><text x="113" y="7">σζ = 0.59</text><text x="146" y="7">σζ = 1.09</text><text x="180" y="7">σζ = 1.92</text>
<text x="8" y="50" transform="rotate(-90 8 50)">CIFAR10</text><text x="8" y="122" transform="rotate(-90 8 122)">CelebA</text>
<g transform="translate(12,10)">
<rect width="33" height="27" fill="#9ab0c0"/><rect y="28" width="33" height="27" fill="#6a5040"/>
<g transform="translate(34,0)"><rect width="33" height="55" fill="#888"/><rect width="33" height="55" filter="url(#nz)" opacity="0.45"/></g>
<g transform="translate(68,0)"><rect width="33" height="55" fill="#888"/><rect width="33" height="55" filter="url(#nz)" opacity="0.6"/></g>
<g transform="translate(102,0)"><rect width="33" height="55" fill="#888"/><rect width="33" height="55" filter="url(#nz)" opacity="0.8"/></g>
<rect x="136" width="33" height="55" filter="url(#nz)"/>
<rect x="170" width="33" height="55" filter="url(#nz)"/>
<rect y="57" width="67" height="53" fill="url(#face)"/><rect x="68" y="57" width="67" height="53" fill="url(#face)"/><rect x="68" y="57" width="67" height="53" filter="url(#nz)" opacity="0.35"/>
<rect x="136" y="57" width="67" height="53" filter="url(#nz)"/>
</g>
<text x="30" y="131">σζ = 0</text><text x="98" y="131">σζ = 0.2</text><text x="165" y="131">σζ = 1.38</text>
</svg>
<div class="t" style="left:48px;top:228px;font-size:10.5px;">TweedieDiff+ vs SFBD on CIFAR10</div>
<svg class="a" style="left:0;top:240px" width="260" height="140" font-family="Liberation Sans" font-size="8.5">
<rect x="44" y="4" width="210" height="102" fill="none" stroke="#000" stroke-width="0.7"/>
<g stroke="#ccc" stroke-dasharray="3 2" stroke-width="0.5"><path d="M44 9H254M44 39H254M44 72H254"/></g>
<text x="24" y="12">15</text><text x="24" y="42">10</text><text x="30" y="75">5</text><text x="30" y="108">0</text>
<text x="18" y="80" transform="rotate(-90 18 80)">FID Score</text>
<rect x="62" y="53" width="22" height="53" fill="#e8a22a"/><rect x="84" y="17" width="22" height="89" fill="#e04a10"/>
<rect x="126" y="88" width="22" height="18" fill="#e8a22a"/><rect x="148" y="89" width="22" height="17" fill="#e04a10"/>
<rect x="189" y="62" width="22" height="44" fill="#e8a22a"/><rect x="211" y="64" width="22" height="42" fill="#e04a10"/>
<text x="63" y="50">8.05</text><text x="85" y="14">13.53</text><text x="127" y="85">2.81</text><text x="149" y="86">2.58</text><text x="190" y="59">6.75</text><text x="212" y="61">6.31</text>
<rect x="142" y="9" width="108" height="31" fill="#fff" stroke="#ccc" stroke-width="0.5"/>
<rect x="146" y="14" width="16" height="6" fill="#e8a22a"/><text x="168" y="20">TweedieDiff+</text>
<rect x="146" y="27" width="16" height="6" fill="#e04a10"/><text x="168" y="33">SFBD</text>
<text x="32" y="136" transform="rotate(-18 32 136)">50 images, σ=0.2</text>
<text x="97" y="136" transform="rotate(-18 97 136)">10% clean, σ=0.2</text>
<text x="162" y="136" transform="rotate(-18 162 136)">4% clean, σ=0.59</text>
</svg>
<svg class="a" style="left:256px;top:248px" width="250" height="135" font-family="Liberation Serif" font-size="6">
<text x="8" y="50" transform="rotate(-90 8 50)">Train. Sample</text><text x="8" y="115" transform="rotate(-90 8 115)">Gen. Sample</text>
<defs><radialGradient id="f3" cx="50%" cy="55%" r="60%"><stop offset="0" stop-color="#e0b090"/><stop offset="0.45" stop-color="#c08868"/><stop offset="0.7" stop-color="#4a2c20"/><stop offset="1" stop-color="#2a1810"/></radialGradient>
<radialGradient id="f4" cx="50%" cy="55%" r="60%"><stop offset="0" stop-color="#f0c8a8"/><stop offset="0.45" stop-color="#e0b090"/><stop offset="0.7" stop-color="#e8d8a0"/><stop offset="1" stop-color="#c8b890"/></radialGradient></defs>
<rect x="15" y="2" width="53" height="53" fill="url(#f3)"/><rect x="71" y="2" width="53" height="53" fill="url(#f4)"/><rect x="127" y="2" width="53" height="53" fill="url(#f3)"/><rect x="183" y="2" width="53" height="53" fill="url(#f3)"/>
<rect x="15" y="58" width="53" height="53" fill="url(#f3)"/><rect x="71" y="58" width="53" height="53" fill="url(#f4)"/><rect x="127" y="58" width="53" height="53" fill="url(#f3)"/><rect x="183" y="58" width="53" height="53" fill="url(#f3)"/>
<text x="15" y="120">Top matching image pairs from the CelebA dataset. The model is pretrained on</text>
<text x="15" y="128">1,500 clean images (&lt; 1%), σ = 1.38.</text>
</svg>
<svg class="a" style="left:0;top:395px" width="510" height="205" font-family="Liberation Sans" font-size="8">
<g transform="translate(46,6)">
<rect width="214" height="125" fill="none" stroke="#000" stroke-width="0.7"/>
<g stroke="#ddd" stroke-width="0.5"><path d="M12 0V125M66 0V125M119 0V125M172 0V125M204 0V125"/></g>
<text x="-14" y="4">16</text><text x="-14" y="21">14</text><text x="-14" y="38">12</text><text x="-14" y="55">10</text><text x="-10" y="72">8</text><text x="-10" y="89">6</text><text x="-10" y="106">4</text><text x="-10" y="123">2</text>
<text x="-26" y="86" transform="rotate(-90 -26 86)" font-size="9">FID Score</text>
<text x="2" y="136">iter 0</text><text x="55" y="136">iter 1</text><text x="108" y="136">iter 2</text><text x="161" y="136">iter 3</text><text x="193" y="136">iter 4</text>
<text x="74" y="148" font-size="9">Iterations (k)</text>
<text x="70" y="160" font-size="9"><tspan fill="#7a9e2e">(a)</tspan> Clean Image Ratio</text>
<path d="M0 103H214" stroke="#e02020" stroke-dasharray="4 2"/><path d="M0 121H214" stroke="#1a2ae0" stroke-dasharray="4 2"/>
<polyline points="12,4 66,51 119,72 172,81 204,80" fill="none" stroke="#3a70b8" stroke-width="1"/>
<polyline points="12,89 66,100 119,106 172,108 204,108" fill="none" stroke="#f08020" stroke-width="1"/>
<polyline points="12,103 66,112 119,112 172,112 204,111" fill="none" stroke="#3a9a30" stroke-width="1"/>
<g fill="#3a70b8"><circle cx="12" cy="4" r="2"/><circle cx="66" cy="51" r="2"/><circle cx="119" cy="72" r="2"/><circle cx="172" cy="81" r="2"/><circle cx="204" cy="80" r="2"/></g>
<g fill="#f08020"><circle cx="12" cy="89" r="2"/><circle cx="66" cy="100" r="2"/><circle cx="119" cy="106" r="2"/><circle cx="172" cy="108" r="2"/><circle cx="204" cy="108" r="2"/></g>
<g fill="#3a9a30"><circle cx="12" cy="103" r="2"/><circle cx="66" cy="112" r="2"/><circle cx="119" cy="112" r="2"/><circle cx="172" cy="112" r="2"/><circle cx="204" cy="111" r="2"/></g>
<rect x="140" y="2" width="72" height="58" fill="#fff" stroke="#ccc" stroke-width="0.5"/>
<text x="144" y="10" font-size="6.5">Clean Image Ratio</text>
<path d="M150 18h16" stroke="#3a70b8"/><text x="174" y="20" font-size="6.5">0.04</text>
<path d="M150 28h16" stroke="#f08020"/><text x="174" y="30" font-size="6.5">0.10</text>
<path d="M150 38h16" stroke="#3a9a30"/><text x="174" y="40" font-size="6.5">0.20</text>
<path d="M150 47h16" stroke="#e02020" stroke-dasharray="3 2"/><text x="174" y="49" font-size="6.5">DDIM</text>
<path d="M150 56h16" stroke="#1a2ae0" stroke-dasharray="3 2"/><text x="174" y="58" font-size="6.5">EDM</text>
</g>
<g transform="translate(288,6)">
<rect width="210" height="125" fill="none" stroke="#000" stroke-width="0.7"/>
<g stroke="#ddd" stroke-width="0.5"><path d="M12 0V125M64 0V125M116 0V125M168 0V125M199 0V125"/></g>
<text x="-12" y="4">16</text><text x="-12" y="21">14</text><text x="-12" y="38">12</text><text x="-12" y="55">10</text><text x="-8" y="72">8</text><text x="-8" y="89">6</text><text x="-8" y="106">4</text><text x="-8" y="123">2</text>
<text x="-16" y="86" transform="rotate(-90 -16 86)" font-size="9">FID Score</text>
<text x="2" y="136">iter 0</text><text x="53" y="136">iter 1</text><text x="105" y="136">iter 2</text><text x="157" y="136">iter 3</text><text x="188" y="136">iter 4</text>
<text x="74" y="148" font-size="9">Iterations (k)</text>
<text x="74" y="160" font-size="9"><tspan fill="#7a9e2e">(b)</tspan> Noise Level</text>
<path d="M0 103H210" stroke="#e02020" stroke-dasharray="4 2"/><path d="M0 121H210" stroke="#1a2ae0" stroke-dasharray="4 2"/>
<polyline points="12,4 64,80 116,97 168,102 199,104" fill="none" stroke="#f08020" stroke-width="1"/>
<polyline points="12,4 64,51 116,72 168,81 199,80" fill="none" stroke="#3a70b8" stroke-width="1"/>
<polyline points="12,4 64,21 116,47 168,55 199,50" fill="none" stroke="#3a9a30" stroke-width="1"/>
<polyline points="12,4 64,21 116,38 168,36 199,36" fill="none" stroke="#c82020" stroke-width="1"/>
<g fill="#f08020"><circle cx="64" cy="80" r="2"/><circle cx="116" cy="97" r="2"/><circle cx="168" cy="102" r="2"/><circle cx="199" cy="104" r="2"/></g>
<g fill="#3a70b8"><circle cx="64" cy="51" r="2"/><circle cx="116" cy="72" r="2"/><circle cx="168" cy="81" r="2"/><circle cx="199" cy="80" r="2"/></g>
<g fill="#3a9a30"><circle cx="116" cy="47" r="2"/><circle cx="168" cy="55" r="2"/><circle cx="199" cy="50" r="2"/></g>
<g fill="#c82020"><circle cx="64" cy="21" r="2"/><circle cx="116" cy="38" r="2"/><circle cx="168" cy="36" r="2"/><circle cx="199" cy="36" r="2"/></g>
<rect x="2" y="2" width="60" height="62" fill="#fff" opacity="0.8" stroke="#ccc" stroke-width="0.5"/>
<text x="6" y="10" font-size="6.5">Noise Level</text>
<path d="M6 18h14" stroke="#f08020"/><text x="24" y="20" font-size="6.5">σζ = 0.30</text>
<path d="M6 27h14" stroke="#3a70b8"/><text x="24" y="29" font-size="6.5">σζ = 0.59</text>
<path d="M6 36h14" stroke="#3a9a30"/><text x="24" y="38" font-size="6.5">σζ = 1.09</text>
<path d="M6 45h14" stroke="#c82020"/><text x="24" y="47" font-size="6.5">σζ = 1.92</text>
<path d="M6 53h14" stroke="#e02020" stroke-dasharray="3 2"/><text x="24" y="55" font-size="6.5">DDIM</text>
<path d="M6 61h14" stroke="#1a2ae0" stroke-dasharray="3 2"/><text x="24" y="63" font-size="6.5">EDM</text>
</g>
</svg>
<div class="t" style="left:4px;top:575px;font-size:8.5px;line-height:11px;white-space:normal;width:496px;"><span style="color:#7a9e2e">Figure:</span> SFBD performance on CIFAR-10 under various conditions. Unless specified, the clean image ratio is 0.04 and the noise level σ<sub style="font-size:6px">ζ</sub> is 0.59.</div>
</div></div>
</div>
</body></html>
